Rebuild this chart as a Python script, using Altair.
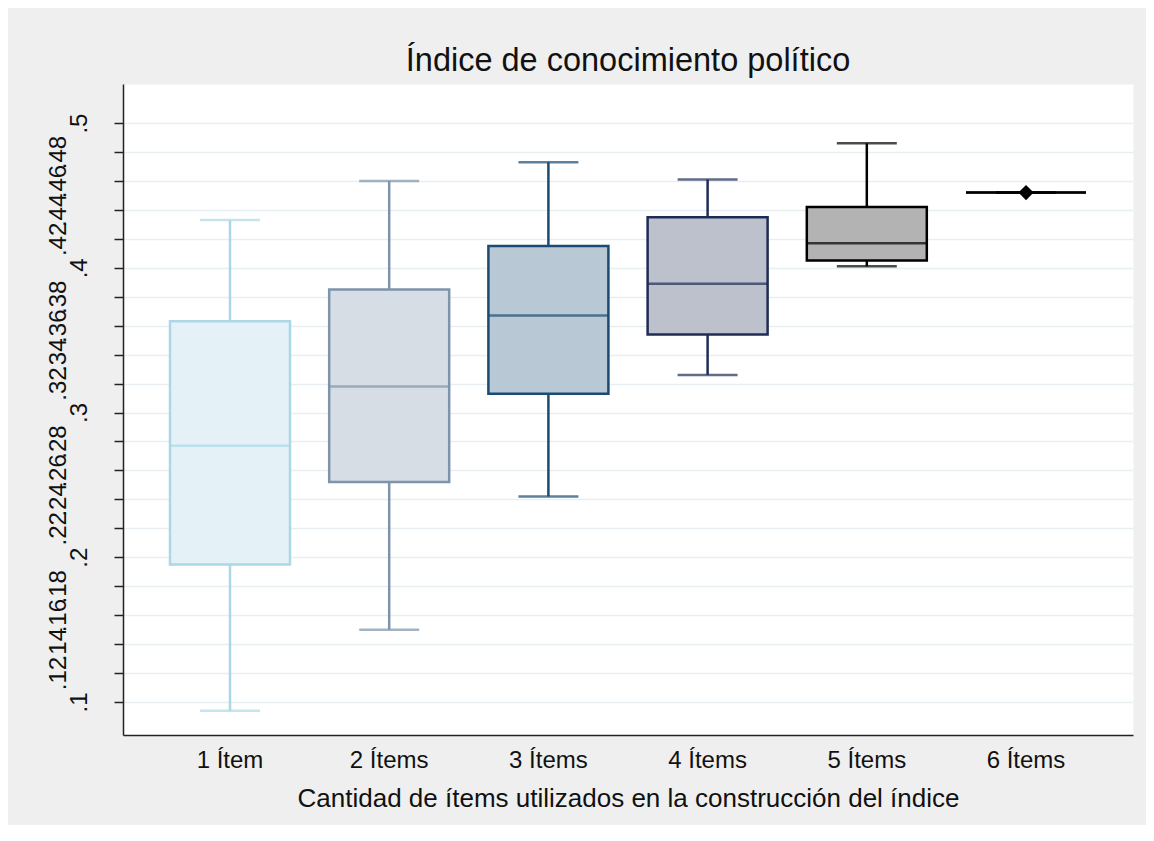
import altair as alt
import pandas as pd

groups = ["1 Ítem", "2 Ítems", "3 Ítems", "4 Ítems", "5 Ítems", "6 Ítems"]
lower = [0.094, 0.150, 0.242, 0.326, 0.401, 0.452]
q1 = [0.195, 0.252, 0.313, 0.354, 0.405, 0.452]
median = [0.277, 0.318, 0.367, 0.389, 0.417, 0.452]
q3 = [0.363, 0.385, 0.415, 0.435, 0.442, 0.452]
upper = [0.433, 0.460, 0.473, 0.461, 0.486, 0.452]

diamond_groups = ["6 Ítems"]
diamond_values = [0.452]

stroke_colors = ["#acd8e5", "#7e94ab", "#1b4b73", "#1f2c57", "#000000", "#000000"]
fill_colors = ["#e4f1f7", "#d6dde5", "#b8c8d5", "#bcc1cb", "#b3b3b3", "#b3b3b3"]

y_ticks = [0.10, 0.12, 0.14, 0.16, 0.18, 0.20, 0.22, 0.24, 0.26, 0.28, 0.30,
           0.32, 0.34, 0.36, 0.38, 0.40, 0.42, 0.44, 0.46, 0.48, 0.50]
y_minor_labels = [0.12, 0.14, 0.16, 0.18, 0.22, 0.24, 0.26, 0.28,
                  0.32, 0.34, 0.36, 0.38, 0.42, 0.44, 0.46, 0.48]

df = pd.DataFrame({"group": groups, "lower": lower, "q1": q1, "median": median,
                   "q3": q3, "upper": upper})
dd = pd.DataFrame({"group": diamond_groups, "value": diamond_values})

FONT = "Liberation Sans"
LW = 2.5

x_enc = alt.X(
    "group:N",
    sort=groups,
    scale=alt.Scale(domain=groups, paddingInner=0, paddingOuter=0.172),
    axis=alt.Axis(
        title="Cantidad de ítems utilizados en la construcción del índice",
        labelAngle=0,
        labelFontSize=24,
        labelFont=FONT,
        labelColor="#111111",
        labelBaseline="alphabetic",
        labelPadding=32,
        ticks=False,
        tickSize=0,
        domainColor="#222222",
        domainWidth=1.5,
        titleFont=FONT,
        titleFontSize=26,
        titleFontWeight="normal",
        titleColor="#111111",
        titleBaseline="alphabetic",
        titleY=71,
        grid=False,
    ),
)

y_scale = alt.Scale(domain=[0.0772, 0.527], nice=False, zero=False)

major_axis = alt.Axis(
    title=None,
    orient="left",
    values=y_ticks,
    labelExpr="abs(datum.value * 10 - round(datum.value * 10)) < 0.001 ? substring(format(datum.value, '.1~f'), 1) : ''",
    labelAngle=-90,
    labelAlign="center",
    labelBaseline="alphabetic",
    labelPadding=28,
    labelFontSize=24,
    labelFont=FONT,
    labelColor="#111111",
    labelOverlap=False,
    labelFlush=False,
    labelBound=False,
    tickSize=9,
    tickColor="#222222",
    tickWidth=1.5,
    domainColor="#222222",
    domainWidth=1.5,
    grid=True,
    gridColor="#e7eff2",
    gridWidth=1.5,
)

minor_axis = alt.Axis(
    title=None,
    orient="left",
    values=y_minor_labels,
    labelExpr="substring(format(datum.value, '.2~f'), 1)",
    labelAngle=-90,
    labelAlign="center",
    labelBaseline="alphabetic",
    labelPadding=58,
    labelFontSize=24,
    labelFont=FONT,
    labelColor="#111111",
    labelOverlap=False,
    labelFlush=False,
    labelBound=False,
    ticks=False,
    tickSize=0,
    domain=False,
    grid=False,
)

stroke_scale = alt.Scale(domain=groups, range=stroke_colors)
fill_scale = alt.Scale(domain=groups, range=fill_colors)

base = alt.Chart(df)

whisk_low = base.mark_rule(strokeWidth=LW).encode(
    x=x_enc,
    y=alt.Y("lower:Q", scale=y_scale, axis=major_axis),
    y2="q1:Q",
    color=alt.Color("group:N", scale=stroke_scale, legend=None),
)
whisk_high = base.mark_rule(strokeWidth=LW).encode(
    x=x_enc,
    y=alt.Y("q3:Q", scale=y_scale, axis=None),
    y2="upper:Q",
    color=alt.Color("group:N", scale=stroke_scale, legend=None),
)
cap_low = base.mark_tick(size=60, thickness=LW).encode(
    x=x_enc,
    y=alt.Y("lower:Q", scale=y_scale, axis=None),
    color=alt.Color("group:N", scale=stroke_scale, legend=None),
)
cap_high = base.mark_tick(size=60, thickness=LW).encode(
    x=x_enc,
    y=alt.Y("upper:Q", scale=y_scale, axis=None),
    color=alt.Color("group:N", scale=stroke_scale, legend=None),
)
box = base.mark_bar(size=120, strokeWidth=LW, fillOpacity=1).encode(
    x=x_enc,
    y=alt.Y("q1:Q", scale=y_scale, axis=minor_axis),
    y2="q3:Q",
    fill=alt.Fill("group:N", scale=fill_scale, legend=None),
    stroke=alt.Stroke("group:N", scale=stroke_scale, legend=None),
)
med = base.mark_tick(size=120, thickness=LW).encode(
    x=x_enc,
    y=alt.Y("median:Q", scale=y_scale, axis=None),
    color=alt.Color("group:N", scale=stroke_scale, legend=None),
)
diamond = alt.Chart(dd).mark_point(shape="diamond", filled=True, size=230,
                                   color="#000000", opacity=1).encode(
    x=x_enc,
    y=alt.Y("value:Q", scale=y_scale, axis=None),
)

chart = alt.layer(whisk_low, whisk_high, cap_low, cap_high, box, med, diamond).resolve_axis(
    y="independent"
).properties(
    width=1010,
    height=651,
    title=alt.TitleParams(
        "Índice de conocimiento político",
        font=FONT,
        fontSize=32.5,
        fontWeight="normal",
        color="#111111",
        anchor="middle",
        baseline="alphabetic",
        offset=12,
        dy=31,
    ),
    background="#efefef",
    padding={"left": 115, "top": 76, "right": 13, "bottom": 90},
    autosize=alt.AutoSizeParams(type="none"),
).configure_view(
    fill="#ffffff",
    stroke="transparent",
)

chart.save("out.html", embed_options={"renderer": "svg", "actions": False})
